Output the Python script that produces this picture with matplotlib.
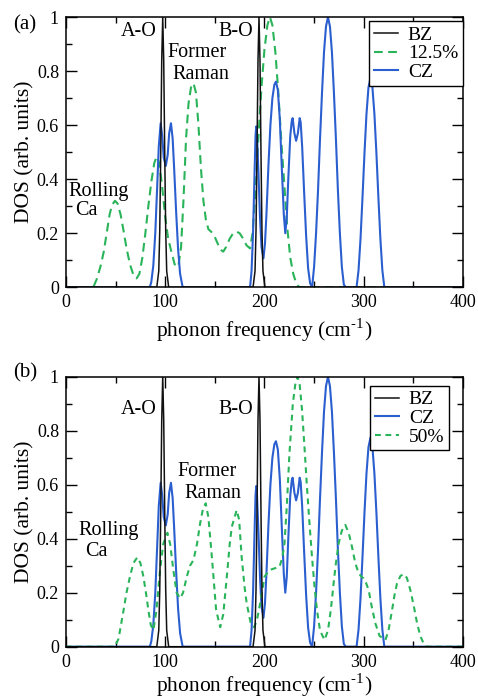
"""Phonon DOS of BZ / CZ / mixed cells, two stacked panels."""
import matplotlib
matplotlib.use("Agg")
import matplotlib.pyplot as plt
from matplotlib.ticker import MultipleLocator

plt.rcParams.update({
    "font.family": ["Liberation Serif", "DejaVu Serif"],
    "mathtext.fontset": "stix",
    "xtick.direction": "in", "ytick.direction": "in",
    "xtick.top": True, "ytick.right": True,
})

# BZ (black), sharp A-O and B-O modes
BZ_X = [0, 91.5, 93.5, 94.5, 95.5, 96.5, 97.5, 98.5, 99.5, 100.5, 101.5, 103.5,
        188.5, 190.5, 191.5, 192.5, 193.5, 194.5, 195.5, 196.5, 197.5, 198.5, 200.5, 400]
BZ_Y = [0, 0, 0.06, 0.21, 0.5, 0.84, 1.0, 0.84, 0.5, 0.21, 0.06, 0,
        0, 0.06, 0.21, 0.5, 0.84, 1.0, 0.84, 0.5, 0.21, 0.06, 0, 0]

# CZ (blue)
CZ_X = [0, 84.5, 86, 88, 90, 92, 93.5, 95.4, 97, 98.5, 100.6, 102.5, 104, 105.8, 107.5, 109, 111, 113, 115, 117.6,
        185.5, 187, 188.5, 190, 191, 191.7, 192.5, 194, 195.5, 197, 199, 200.5, 202, 204, 206, 208, 210, 211.6,
        213.5, 215.5, 217.5, 219.5, 221, 222.5, 224, 226, 227.5, 228.4, 230.2, 231.9, 233.7, 235.5, 236.5, 238,
        240, 242, 244, 246, 248, 250, 252, 254, 256, 258, 260, 262, 264, 266, 268, 270, 272, 274, 276, 278, 280,
        282, 292.8, 294.8, 296.8, 298.8, 300.8, 302.8, 304.8, 306.8, 308.8, 310.8, 312.8, 314.8, 316.8, 318.8,
        320.8, 400]
CZ_Y = [0, 0, 0.02, 0.08, 0.2, 0.38, 0.52, 0.607, 0.56, 0.48, 0.449, 0.49, 0.57, 0.607, 0.55, 0.44, 0.28, 0.14, 0.05, 0,
        0, 0.06, 0.2, 0.42, 0.56, 0.595, 0.56, 0.42, 0.26, 0.15, 0.107, 0.16, 0.27, 0.45, 0.6, 0.7, 0.75, 0.761,
        0.73, 0.62, 0.44, 0.27, 0.2, 0.26, 0.4, 0.56, 0.615, 0.626, 0.57, 0.542, 0.57, 0.626, 0.61, 0.52,
        0.35, 0.19, 0.07, 0.015, 0, 0.075, 0.2, 0.36, 0.55, 0.72, 0.87, 0.965, 1.0, 0.965, 0.87, 0.72, 0.55, 0.36,
        0.2, 0.075, 0.01, 0, 0, 0.063, 0.18, 0.333, 0.497, 0.641, 0.739, 0.774, 0.739, 0.641, 0.497, 0.333, 0.18,
        0.063, 0, 0]

# 12.5% (green dashed, panel a)
G12_X = [0, 27.5, 31, 35, 38, 41, 44, 46.5, 49.4, 52, 55, 58, 61, 64.5, 68, 71.2, 74, 77, 80, 83, 86, 89, 91.4,
         94, 97, 100, 103, 106, 109.5, 113.2, 116, 118.5, 121, 123.5, 126, 128.5, 131, 133.5, 136, 138.5, 141,
         143.5, 146.5, 149.5, 152.5, 155.5, 158.5, 161.5, 165, 168.5, 171.9, 175, 178.5, 182, 185.4, 188, 191,
         194, 197, 200, 203, 205.5, 208, 211, 214, 217, 220, 223, 226, 229, 232, 235, 400]
G12_Y = [0, 0, 0.03, 0.08, 0.13, 0.2, 0.27, 0.305, 0.32, 0.31, 0.27, 0.21, 0.145, 0.085, 0.045, 0.033, 0.05, 0.11,
         0.2, 0.3, 0.39, 0.46, 0.484, 0.46, 0.37, 0.26, 0.18, 0.135, 0.085, 0.076, 0.15, 0.33, 0.55, 0.68, 0.74,
         0.755, 0.72, 0.6, 0.44, 0.32, 0.25, 0.215, 0.205, 0.19, 0.165, 0.14, 0.132, 0.15, 0.18, 0.2, 0.206, 0.2,
         0.18, 0.155, 0.144, 0.2, 0.36, 0.56, 0.74, 0.88, 0.97, 1.0, 0.97, 0.87, 0.72, 0.54, 0.38, 0.22, 0.11,
         0.05, 0.015, 0, 0]

# 50% (green dashed, panel b)
G50_X = [0, 49.4, 53, 57.8, 61, 64.5, 68, 71.9, 75, 78, 81, 83, 85.5, 88.1, 91, 94.8, 98, 102.2, 105, 108.2,
         111.5, 115, 118, 121.8, 125, 128.5, 132, 135.2, 138, 140.8, 143.5, 147, 151.3, 155.4, 158.5, 162.1, 165,
         167.1, 172, 174.5, 177, 180, 182.1, 186, 189.7, 192.5, 195.7, 200.1, 205.2, 210, 215.2, 218, 220.2,
         222.5, 225.2, 228.6, 231, 233.4, 235.5, 237.8, 240.5, 242.8, 245.5, 247.9, 250.5, 252.9, 256, 260.5,
         264, 267, 269.7, 272, 274.8, 278, 281.5, 285, 288.2, 291.5, 294.9, 298, 300, 302.5, 305, 308, 311.7,
         316, 321.9, 325, 328.6, 331, 333.6, 337, 340.3, 343.5, 347, 350.5, 353.8, 357, 360, 363.9, 400]
G50_Y = [0, 0, 0.03, 0.13, 0.2, 0.26, 0.31, 0.331, 0.31, 0.26, 0.19, 0.136, 0.08, 0.062, 0.13, 0.284, 0.38, 0.422,
         0.38, 0.284, 0.2, 0.179, 0.2, 0.26, 0.3, 0.321, 0.38, 0.457, 0.51, 0.531, 0.48, 0.333, 0.136, 0.072,
         0.12, 0.26, 0.38, 0.444, 0.506, 0.47, 0.333, 0.22, 0.161, 0.09, 0.072, 0.1, 0.161, 0.26, 0.284, 0.29,
         0.296, 0.33, 0.383, 0.52, 0.716, 0.9, 0.97, 1.0, 0.97, 0.88, 0.73, 0.593, 0.45, 0.333, 0.22, 0.136,
         0.06, 0.025, 0.06, 0.14, 0.235, 0.31, 0.383, 0.43, 0.451, 0.42, 0.37, 0.31, 0.272, 0.258, 0.253, 0.235,
         0.21, 0.15, 0.087, 0.04, 0.025, 0.06, 0.136, 0.19, 0.235, 0.262, 0.269, 0.255, 0.21, 0.15, 0.087, 0.04,
         0.015, 0, 0]

BLACK, BLUE, GREEN = "#111111", "#2b5fd0", "#2ab45a"
XLABEL = r"phonon frequency (cm$^{\mathregular{\text{-}1}}$)"

fig = plt.figure(figsize=(4.78, 6.98), dpi=100)
ax_a = fig.add_axes([0.138, 0.5884, 0.8305, 0.3872])
ax_b = fig.add_axes([0.138, 0.0735, 0.8305, 0.3868])


def style(ax, xpad):
    ax.set_xlim(0, 400)
    ax.set_ylim(0, 1)
    ax.xaxis.set_major_locator(MultipleLocator(100))
    ax.xaxis.set_minor_locator(MultipleLocator(50))
    ax.yaxis.set_major_locator(MultipleLocator(0.2))
    ax.yaxis.set_minor_locator(MultipleLocator(0.1))
    ax.set_yticks([0, 0.2, 0.4, 0.6, 0.8, 1.0], ["0", "0.2", "0.4", "0.6", "0.8", "1"])
    ax.tick_params(which="major", length=8, width=1, labelsize=13, pad=5)
    ax.tick_params(which="minor", length=4.5, width=1)
    for s in ax.spines.values():
        s.set_linewidth(1.1)
    ax.set_xlabel(XLABEL, fontsize=15.5, labelpad=xpad)
    ax.set_ylabel("DOS (arb. units)", fontsize=15.5, labelpad=2)


# a
g, = ax_a.plot(G12_X, G12_Y, color=GREEN, lw=1.5, dashes=(4.2, 2.6), label="12.5%")
c, = ax_a.plot(CZ_X, CZ_Y, color=BLUE, lw=1.5, label="CZ")
b, = ax_a.plot(BZ_X, BZ_Y, color=BLACK, lw=1.1, label="BZ")
style(ax_a, 4)
ax_a.legend(handles=[b, g, c], loc="upper right", bbox_to_anchor=(1.0, 0.984), borderaxespad=0,
            fontsize=14, frameon=True, fancybox=False, edgecolor="black", framealpha=1,
            borderpad=0.25, labelspacing=0.05, handlelength=1.25, handletextpad=0.5).get_frame().set_linewidth(1)
ax_a.text(91.8, 0.945, "A-O", ha="right", va="center", fontsize=14.5)
ax_a.text(188.5, 0.945, "B-O", ha="right", va="center", fontsize=14.5)
ax_a.text(131.8, 0.867, "Former", ha="center", va="center", fontsize=14.5)
ax_a.text(135.5, 0.786, "Raman", ha="center", va="center", fontsize=14.5)
ax_a.text(2.3, 0.354, "Rolling", ha="left", va="center", fontsize=14.5)
ax_a.text(9.1, 0.284, "Ca", ha="left", va="center", fontsize=14.5)

# b
c2, = ax_b.plot(CZ_X, CZ_Y, color=BLUE, lw=1.5, label="CZ")
g2, = ax_b.plot(G50_X, G50_Y, color=GREEN, lw=1.5, dashes=(2.8, 2.2), label="50%")
b2, = ax_b.plot(BZ_X, BZ_Y, color=BLACK, lw=1.1, label="BZ")
style(ax_b, 1)
ax_b.legend(handles=[b2, c2, g2], loc="upper right", bbox_to_anchor=(0.9655, 0.9656), borderaxespad=0,
            fontsize=14, frameon=True, fancybox=False, edgecolor="black", framealpha=1,
            borderpad=0.25, labelspacing=0.05, handlelength=1.25, handletextpad=0.5).get_frame().set_linewidth(1)
ax_b.text(91.8, 0.877, "A-O", ha="right", va="center", fontsize=14.5)
ax_b.text(188.5, 0.877, "B-O", ha="right", va="center", fontsize=14.5)
ax_b.text(141.9, 0.648, "Former", ha="center", va="center", fontsize=14.5)
ax_b.text(147.8, 0.568, "Raman", ha="center", va="center", fontsize=14.5)
ax_b.text(12.4, 0.432, "Rolling", ha="left", va="center", fontsize=14.5)
ax_b.text(19.2, 0.352, "Ca", ha="left", va="center", fontsize=14.5)

fig.text(13 / 478, 1 - 25 / 698, "(a)", ha="left", va="center", fontsize=15)
fig.text(13 / 478, 1 - 373 / 698, "(b)", ha="left", va="center", fontsize=15)

fig.savefig("out.png", dpi=100)
